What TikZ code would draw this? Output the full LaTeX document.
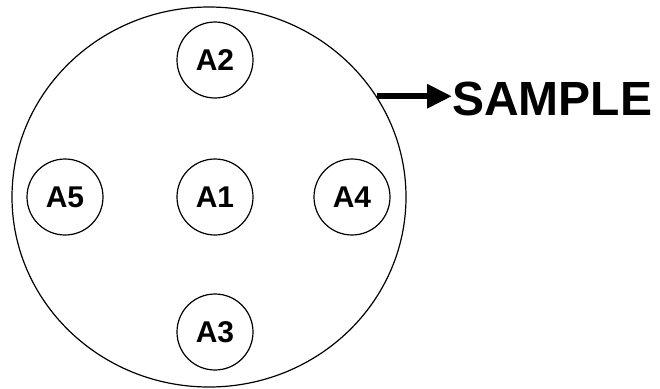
\documentclass[tikz,border=0pt]{standalone}
\usepackage{fontspec}
\setmainfont{Liberation Sans}
\usetikzlibrary{shapes.geometric,arrows.meta}

\begin{document}
\begin{tikzpicture}[x=1pt,y=-1pt,
  spot/.style={draw,circle,line width=1.2pt,minimum size=76pt,inner sep=0pt,font=\fontsize{30}{30}\selectfont\bfseries}]
  \useasboundingbox (0,0) rectangle (660,388);

  \node[name=dish,draw,ellipse,line width=1.2pt,minimum width=394pt,minimum height=380pt] at (209,197) {};

  \node[name=a1,spot] at (215,197) {A1};
  \node[name=a2,spot] at (215,60) {A2};
  \node[name=a3,spot] at (215,332) {A3};
  \node[name=a4,spot] at (352,197) {A4};
  \node[name=a5,spot] at (65,197) {A5};

  \node[name=sample,anchor=west,inner sep=0pt,font=\fontsize{48}{48}\selectfont\bfseries] at (452,99) {SAMPLE};
  \draw[line width=6pt,-{Triangle[length=25pt,width=23pt]}] (dish.31) -- (dish.31 -| sample.west);

\end{tikzpicture}
\end{document}
